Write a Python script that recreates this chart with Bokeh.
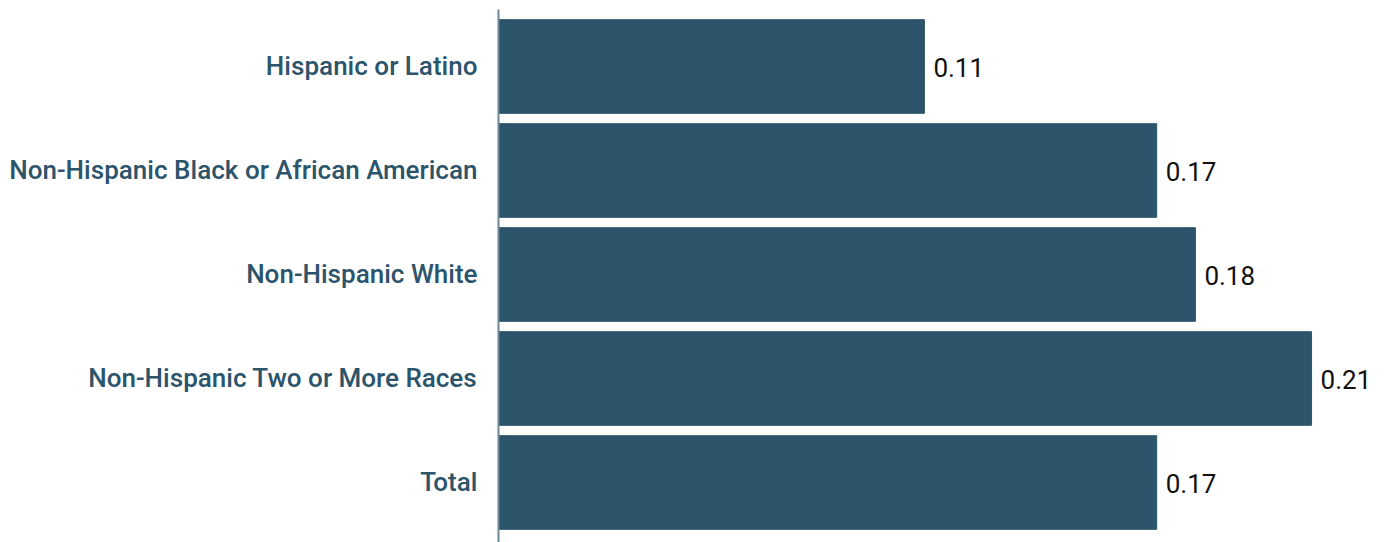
from bokeh.plotting import figure
from bokeh.models import ColumnDataSource, FixedTicker, Range1d
from bokeh.core.properties import value
from bokeh.embed import file_html
from bokeh.resources import INLINE

categories = ["Hispanic or Latino", "Non-Hispanic Black or African American",
              "Non-Hispanic White", "Non-Hispanic Two or More Races", "Total"]
values = [0.11, 0.17, 0.18, 0.21, 0.17]
value_labels = ["0.11", "0.17", "0.18", "0.21", "0.17"]

n = len(categories)
ypos = [n - 1 - i for i in range(n)]
src = ColumnDataSource(dict(y=ypos, v=values, lab=value_labels, cat=categories))

BAR = "#2c546b"
p = figure(width=1385, height=542, output_backend="svg", toolbar_location=None,
           x_range=Range1d(0, 0.2291), y_range=Range1d(-0.577, 4.548),
           min_border_left=498, min_border_right=0, min_border_top=9, min_border_bottom=0)
p.hbar(y="y", right="v", left=0, height=0.9, source=src, color=BAR)
p.text(x="v", y="y", text="lab", source=src, x_offset=9, y_offset=1, text_baseline="middle",
       text_align="left", text_font=value("Roboto"), text_font_size="26px", text_color="#111111")

p.xaxis.visible = False
p.xgrid.visible = False
p.ygrid.visible = False
p.outline_line_color = None
yax = p.yaxis[0]
yax.ticker = FixedTicker(ticks=ypos)
yax.major_label_overrides = {y: c for y, c in zip(ypos, categories)}
yax.major_tick_line_color = None
yax.minor_tick_line_color = None
yax.axis_line_color = "#6b8799"
yax.axis_line_width = 2
yax.major_label_standoff = 15
yax.major_label_text_font = "Roboto Medium"
yax.major_label_text_font_size = "26px"
yax.major_label_text_color = BAR

open("out.html", "w").write(file_html(p, INLINE))
